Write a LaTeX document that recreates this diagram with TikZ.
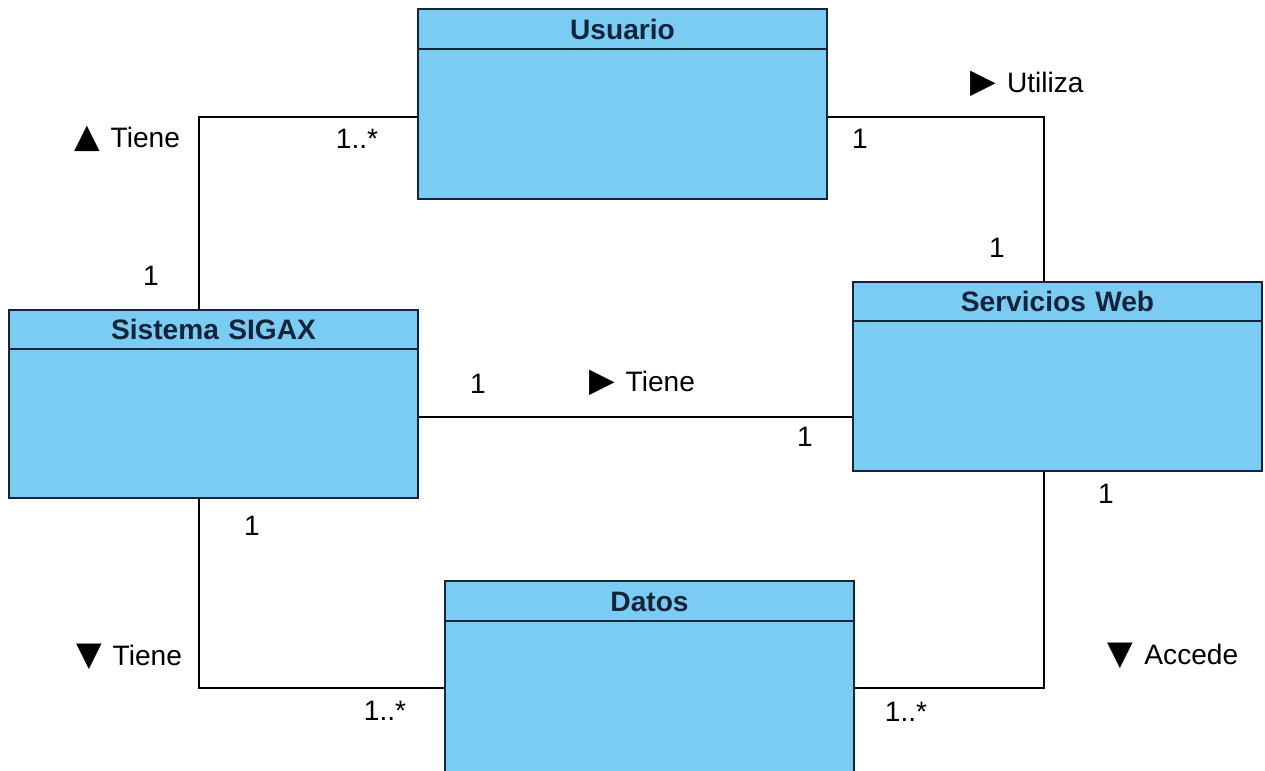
\documentclass[tikz,border=0pt]{standalone}
\usepackage{fontspec}
\setmainfont{Liberation Sans}
\newfontfamily\simbolos{DejaVu Sans}
\usetikzlibrary{shapes}

\definecolor{azulclase}{HTML}{7ACCF2}
\definecolor{bordeclase}{HTML}{14243A}
\newcommand{\simb}[1]{{\simbolos\fontsize{19}{20}\selectfont #1}\hspace{0.22cm}}

\begin{document}
\begin{tikzpicture}[x=0.02cm,y=-0.02cm]
        \tikzstyle{clase}=[rectangle split, rectangle split parts=2, draw=bordeclase, line width=1.2pt,
                fill=azulclase, text=bordeclase, inner xsep=0pt, inner ysep=0pt, text width=8.18cm, align=center,
                font=\fontsize{16}{19}\selectfont\bfseries, anchor=north west]
        \tikzstyle{etiq}=[font=\fontsize{16}{19}\selectfont, inner sep=0pt]
        \tikzstyle{linea}=[line width=1.1pt]
        \clip (0,0) rectangle (1265,771);
        \fill[white] (0,0) rectangle (1265,771);

        % clases
        \node[clase] (usuario) at (417,8) {\rule[-0.17cm]{0pt}{0.76cm}Usuario \nodepart{two} \rule{0pt}{2.96cm}};
        \node[clase] (sigax) at (8,309) {\rule[-0.17cm]{0pt}{0.74cm}Sistema SIGAX \nodepart{two} \rule{0pt}{2.94cm}};
        \node[clase] (servicios) at (852,281) {\rule[-0.17cm]{0pt}{0.74cm}Servicios Web \nodepart{two} \rule{0pt}{2.96cm}};
        \node[clase] (datos) at (444,580) {\rule[-0.17cm]{0pt}{0.76cm}Datos \nodepart{two} \rule{0pt}{3.02cm}};

        % codos de las asociaciones
        \coordinate (c1) at (199,117);
        \coordinate (c2) at (1044,117);
        \coordinate (c3) at (630,417);
        \coordinate (c4) at (199,688);
        \coordinate (c5) at (1044,688);

        \draw[linea] (usuario.west |- c1) -- (c1) -- (sigax.north -| c1);
        \draw[linea] (usuario.east |- c2) -- (c2) -- (servicios.north -| c2);
        \draw[linea] (sigax.east |- c3) -- (servicios.west |- c3);
        \draw[linea] (sigax.south -| c4) -- (c4) -- (datos.west |- c4);
        \draw[linea] (servicios.south -| c5) -- (c5) -- (datos.east |- c5);

        % roles y multiplicidades
        \node[etiq] (r1) at (127,139) {\simb{▲}Tiene};
        \node[etiq] (m1a) at (357,139) {1..*};
        \node[etiq] (m1b) at (151,276) {1};
        \node[etiq] (r2) at (1027,84) {\simb{▶}Utiliza};
        \node[etiq] (m2a) at (860,139) {1};
        \node[etiq] (m2b) at (997,248) {1};
        \node[etiq] (r3) at (642,383) {\simb{▶}Tiene};
        \node[etiq] (m3a) at (478,384) {1};
        \node[etiq] (m3b) at (805,437) {1};
        \node[etiq] (r4) at (129,657) {\simb{▼}Tiene};
        \node[etiq] (m4a) at (252,526) {1};
        \node[etiq] (m4b) at (385,711) {1..*};
        \node[etiq] (r5) at (1173,656) {\simb{▼}Accede};
        \node[etiq] (m5a) at (1106,494) {1};
        \node[etiq] (m5b) at (906,712) {1..*};
\end{tikzpicture}
\end{document}
